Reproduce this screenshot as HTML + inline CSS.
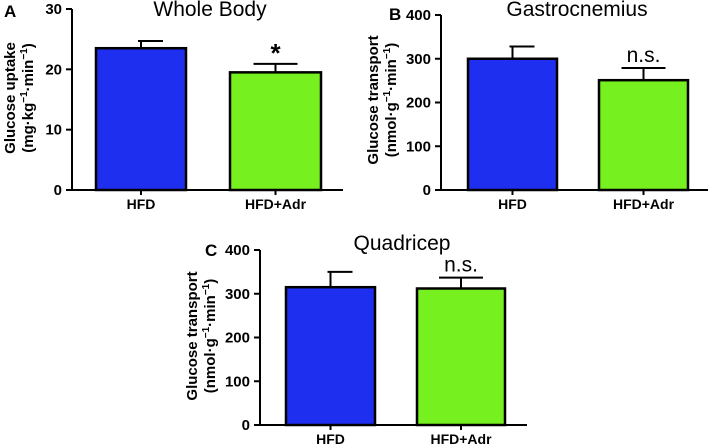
<!DOCTYPE html>
<html><head><meta charset="utf-8"><style>
html,body{margin:0;padding:0;background:#fff;}
svg{display:block;font-family:"Liberation Sans",Arial,sans-serif;}
</style></head><body>
<svg id="fig" width="709" height="445" viewBox="0 0 709 445"></svg>
<script>
const categories = ["HFD", "HFD+Adr"];
const valuesA = [23.5, 19.5];
const errorsA = [1.2, 1.4];
const ticksA = [0, 10, 20, 30];
const valuesB = [300, 251];
const errorsB = [28, 28];
const ticksB = [0, 100, 200, 300, 400];
const valuesC = [315, 312];
const errorsC = [35, 25];
const ticksC = [0, 100, 200, 300, 400];
const annotations = ["", "*", "n.s."];

const NS = "http://www.w3.org/2000/svg";
const svg = document.getElementById("fig");
function el(tag, attrs, parent, text) {
  const e = document.createElementNS(NS, tag);
  for (const k in attrs) e.setAttribute(k, attrs[k]);
  if (text !== undefined) e.textContent = text;
  (parent || svg).appendChild(e);
  return e;
}

const colors = ["#1f2ff0", "#76f01e"];

function panel(cfg) {
  const g = el("g", {});
  
  
  const yMax = cfg.ticks[cfg.ticks.length - 1];
  const y = v => cfg.y0 - (v / yMax) * (cfg.y0 - cfg.yTop);
  const ya = el("line", {x1: cfg.ax, y1: cfg.yTop, x2: cfg.ax, y2: cfg.y0 + 1, stroke: "#000", "stroke-width": 2}, g);
  
  
  const xa = el("line", {x1: cfg.ax - 1, y1: cfg.y0, x2: cfg.xEnd, y2: cfg.y0, stroke: "#000", "stroke-width": 2}, g);
  
  
  cfg.ticks.forEach(t => {
    el("line", {x1: cfg.ax - 6, y1: y(t), x2: cfg.ax, y2: y(t), stroke: "#000", "stroke-width": 2}, g);
    const tl = el("text", {x: cfg.ax - 10, y: y(t) + 5, "text-anchor": "end", "font-size": 15, "font-weight": "bold"}, g, t);
    
    
  });
  cfg.values.forEach((v, i) => {
    const x1 = cfg.bars[i][0], x2 = cfg.bars[i][1], cx = (x1 + x2) / 2;
    const top = y(v), et = y(v + cfg.errors[i]);
    const eb = el("line", {x1: cx, y1: top, x2: cx, y2: et, stroke: "#000", "stroke-width": 2}, g);
    
    
    const left = i === 0 ? 3 : 22;
    el("line", {x1: cx - left, y1: et, x2: cx + 22, y2: et, stroke: "#000", "stroke-width": 2}, g);
    const r = el("rect", {x: x1, y: top, width: x2 - x1, height: cfg.y0 - top, fill: colors[i], stroke: "#000", "stroke-width": 2.5}, g);
    
    
    el("line", {x1: cx, y1: cfg.y0, x2: cx, y2: cfg.y0 + 5, stroke: "#000", "stroke-width": 2}, g);
    const xl = el("text", {x: cx, y: cfg.y0 + 19, "text-anchor": "middle", "font-size": 14, "font-weight": "bold"}, g, categories[i]);
    
    
    if (i === 1 && cfg.annot) {
      const big = cfg.annot === "*";
      const a = el("text", {x: cx, y: big ? et - 2 : et - 6, "text-anchor": "middle", "font-size": big ? 26 : 21, "font-weight": big ? "bold" : "normal"}, g, cfg.annot);
      
      
    }
  });
  const t = el("text", {x: cfg.titleX, y: cfg.titleY, "text-anchor": "middle", "font-size": 21}, g, cfg.title);
  
  
  const L = el("text", {x: cfg.letterX, y: cfg.letterY, "font-size": 17, "font-weight": "bold"}, g, cfg.letter);
  
  
  const yt = el("text", {transform: `translate(${cfg.ytX},${cfg.ytY}) rotate(-90)`, "text-anchor": "middle", "font-size": 15, "font-weight": "bold"}, g);
  
  
  el("tspan", {x: 0, dy: 0}, yt, cfg.ytitle1);
  const t2 = el("tspan", {x: 0, dy: 18}, yt);
  t2.innerHTML = cfg.ytitle2;
}

const sub = "<tspan dy='-6' font-size='10'>−1</tspan><tspan dy='6'>·min</tspan><tspan dy='-6' font-size='10'>−1</tspan><tspan dy='6'>)</tspan>";
panel({name: "panel-a-whole-body", values: valuesA, errors: errorsA, ticks: ticksA, ax: 72, y0: 190, yTop: 9, xEnd: 343,
  bars: [[96, 186], [230, 321]], annot: annotations[1], title: "Whole Body", titleX: 210, titleY: 16,
  letter: "A", letterX: 4, letterY: 17, ytX: 15, ytY: 98, ytitle1: "Glucose uptake",
  ytitle2: "(mg·kg" + sub});
panel({name: "panel-b-gastrocnemius", values: valuesB, errors: errorsB, ticks: ticksB, ax: 441, y0: 190, yTop: 15, xEnd: 708,
  bars: [[468, 557], [599, 688]], annot: annotations[2], title: "Gastrocnemius", titleX: 577, titleY: 16,
  letter: "B", letterX: 389, letterY: 20, ytX: 378, ytY: 100, ytitle1: "Glucose transport",
  ytitle2: "(nmol·g" + sub});
panel({name: "panel-c-quadricep", values: valuesC, errors: errorsC, ticks: ticksC, ax: 260, y0: 425, yTop: 250, xEnd: 527,
  bars: [[286, 375], [417, 505]], annot: annotations[2], title: "Quadricep", titleX: 402, titleY: 250,
  letter: "C", letterX: 205, letterY: 256, ytX: 197, ytY: 336, ytitle1: "Glucose transport",
  ytitle2: "(nmol·g" + sub});
</script>
</body></html>
